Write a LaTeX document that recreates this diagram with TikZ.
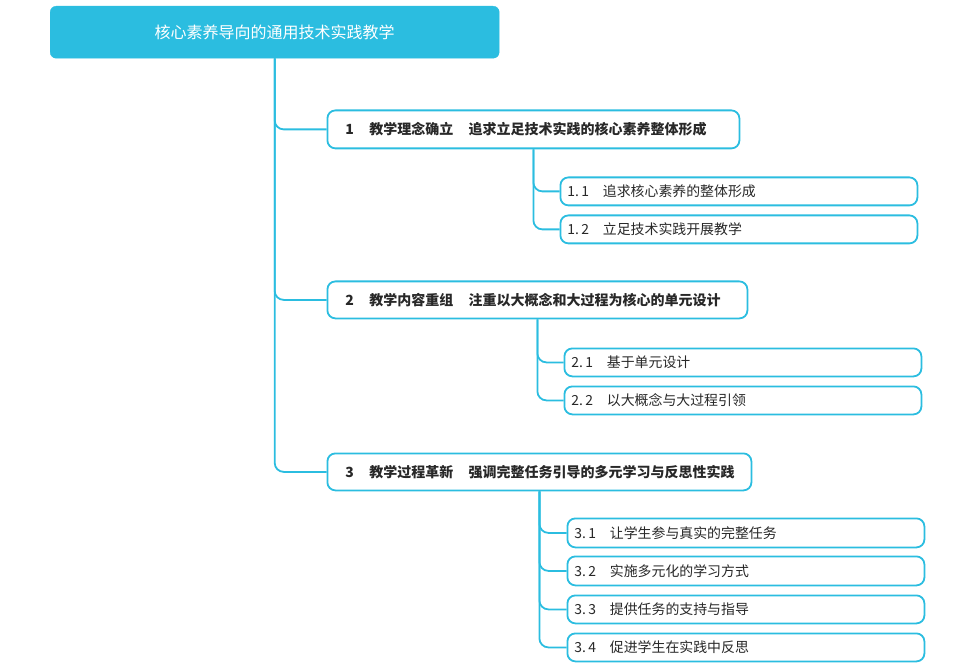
\documentclass[tikz,border=0pt]{standalone}
\usepackage{fontspec}
\setmainfont{Noto Sans CJK SC}
\definecolor{cy}{RGB}{43,189,224}
\definecolor{tx}{RGB}{40,40,40}
\begin{document}
\begin{tikzpicture}[x=1pt,y=-1pt,
  rootbox/.style={fill=cy, draw=cy, rounded corners=6pt, text=white, font=\fontsize{16}{18}\selectfont, anchor=north west, inner sep=0pt},
  lone/.style={draw=cy, line width=1.8pt, fill=white, rounded corners=8pt, anchor=north west, inner xsep=18pt, inner ysep=0pt, align=left, text=tx, font=\bfseries\fontsize{14}{16}\selectfont},
  ltwo/.style={draw=cy, line width=1.8pt, fill=white, rounded corners=8pt, anchor=north west, inner xsep=7pt, inner ysep=0pt, align=left, text=tx, font=\fontsize{13.9}{16}\selectfont, text width=344pt, minimum height=29pt},
  conn/.style={draw=cy, line width=1.8pt, rounded corners=9pt}]
\useasboundingbox (0,0) rectangle (975,671);

\node[rootbox, minimum width=449pt, minimum height=52pt] (root) at (50,6) {核心素养导向的通用技术实践教学};

\node[lone, minimum height=38pt, text width=376pt] (a) at (326.5,109.5) {1\hspace{1.1em}教学理念确立\hspace{1.1em}追求立足技术实践的核心素养整体形成};
\node[lone, minimum height=37pt, text width=384pt] (b) at (326.5,280.5) {2\hspace{1.1em}教学内容重组\hspace{1.1em}注重以大概念和大过程为核心的单元设计};
\node[lone, minimum height=37pt, text width=388pt] (c) at (326.5,452.5) {3\hspace{1.1em}教学过程革新\hspace{1.1em}强调完整任务引导的多元学习与反思性实践};

\node[ltwo, text width=343pt, minimum height=28pt] (a1) at (559.5,176.5) {1.\,1\hspace{1em}追求核心素养的整体形成};
\node[ltwo, text width=343pt, minimum height=28pt] (a2) at (559.5,214.5) {1.\,2\hspace{1em}立足技术实践开展教学};

\node[ltwo, text width=343pt, minimum height=28pt] (b1) at (563.5,347.5) {2.\,1\hspace{1em}基于单元设计};
\node[ltwo, text width=343pt, minimum height=28pt] (b2) at (563.5,385.5) {2.\,2\hspace{1em}以大概念与大过程引领};

\node[ltwo, text width=343pt, minimum height=29pt] (c1) at (566.5,517.5) {3.\,1\hspace{1em}让学生参与真实的完整任务};
\node[ltwo, text width=343pt, minimum height=29pt] (c2) at (566.5,555.5) {3.\,2\hspace{1em}实施多元化的学习方式};
\node[ltwo, text width=343pt, minimum height=28pt] (c3) at (566.5,594.5) {3.\,3\hspace{1em}提供任务的支持与指导};
\node[ltwo, text width=343pt, minimum height=28pt] (c4) at (566.5,632.5) {3.\,4\hspace{1em}促进学生在实践中反思};

\draw[conn] (root.south) |- (a.west);
\draw[conn] (root.south) |- (b.west);
\draw[conn] (root.south) |- (c.west);
\draw[conn] (a.south) |- (a1.west);
\draw[conn] (a.south) |- (a2.west);
\draw[conn] (b.south) |- (b1.west);
\draw[conn] (b.south) |- (b2.west);
\draw[conn] (c.south) |- (c1.west);
\draw[conn] (c.south) |- (c2.west);
\draw[conn] (c.south) |- (c3.west);
\draw[conn] (c.south) |- (c4.west);
\end{tikzpicture}
\end{document}
